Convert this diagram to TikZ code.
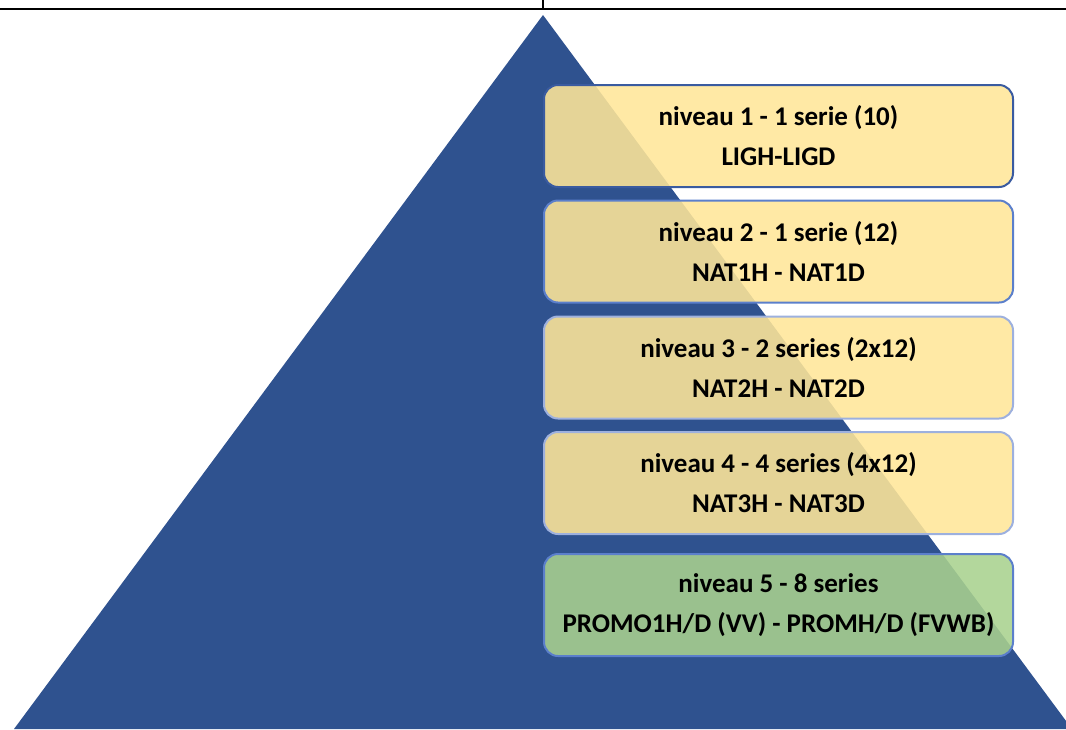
\documentclass[tikz,border=0pt]{standalone}
\usepackage{fontspec}
\setmainfont{Carlito}
\definecolor{pyrblue}{HTML}{2F528F}
\definecolor{lvlyellow}{HTML}{FFE699}
\definecolor{lvlgreen}{HTML}{A9D18E}
\definecolor{edgedark}{HTML}{3A5BA0}
\definecolor{edgemid}{HTML}{5B7FCB}
\definecolor{edgelight}{HTML}{9DB0DE}
\tikzset{
  level/.style={draw, line width=2pt, rounded corners=14pt, fill opacity=0.88, text opacity=1,
    minimum width=469pt, minimum height=102pt, align=center, font=\fontsize{27}{40}\selectfont\bfseries},
}
\begin{document}
\begin{tikzpicture}[x=1pt,y=-1pt]
                \useasboundingbox (0,0) rectangle (1066,729);
                \begin{scope}
                \clip (0,0) rectangle (1066,729);
                \fill[pyrblue] (543,15) -- (14,729) -- (1072,729) -- cycle;
                \end{scope}
                \coordinate (tl) at (0,9); \coordinate (tr) at (1066,9); \coordinate (tick) at (543,0);
                \draw[line width=1.5pt] (tl) -- (tr); \draw[line width=1.5pt] (tick) -- (543,9);

                \node[level, fill=lvlyellow, draw=edgedark] (lvl1) at (778.5,136) {niveau 1 - 1 serie (10)\\LIGH-LIGD};
                \node[level, fill=lvlyellow, draw=edgemid] (lvl2) at (778.5,251.5) {niveau 2 - 1 serie (12)\\NAT1H - NAT1D};
                \node[level, fill=lvlyellow, draw=edgelight] (lvl3) at (778.5,367.5) {niveau 3 - 2 series (2x12)\\NAT2H - NAT2D};
                \node[level, fill=lvlyellow, draw=edgelight] (lvl4) at (778.5,483) {niveau 4 - 4 series (4x12)\\NAT3H - NAT3D};
                \node[level, fill=lvlgreen, draw=edgemid] (lvl5) at (778.5,605) {niveau 5 - 8 series\\PROMO1H/D (VV) - PROMH/D (FVWB)};
\end{tikzpicture}
\end{document}
